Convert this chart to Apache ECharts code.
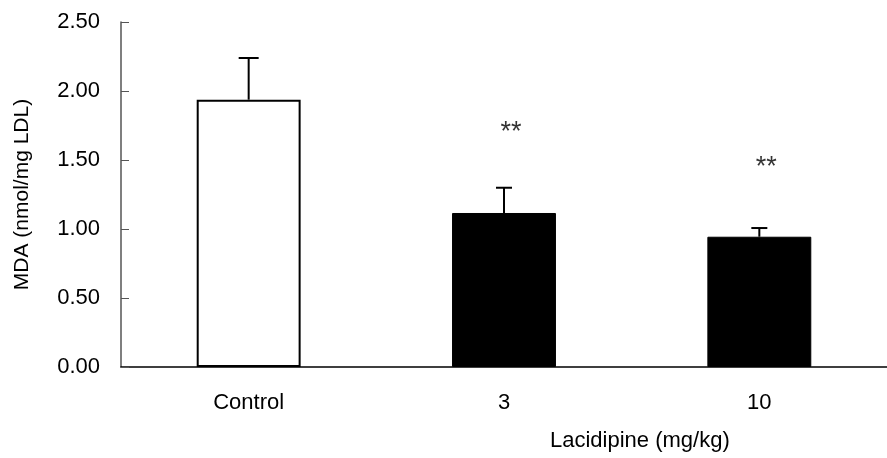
<!DOCTYPE html>
<html>
<head>
<meta charset="utf-8">
<script src="https://cdn.jsdelivr.net/npm/echarts@6/dist/echarts.min.js"></script>
<style>
  html, body { margin: 0; padding: 0; background: #fff; }
  #chart { width: 887px; height: 458px; }
</style>
</head>
<body>
<div id="chart"></div>
<script>
// data
const categories = ['Control', '3', '10']
const meanValues = [1.937, 1.116, 0.944]
const errorTops = [2.239, 1.299, 1.007]
const starLabels = ['', '**', '**']
const starValues = [null, 1.74, 1.49]

const FONT = 'Liberation Sans, Arial, Helvetica, sans-serif'

const myChart = echarts.init(document.getElementById('chart'))

//柱子样式：对照组白色空心，其余黑色
const barData = meanValues.map((v, i) => ({
  value: v,
  itemStyle: i === 0
    ? { color: '#fff', borderColor: '#000', borderWidth: 2 }
    : { color: '#000', borderColor: '#000', borderWidth: 1 }
}))

myChart.setOption({
  animation: false,
  grid: { left: 121, right: -1, top: 22, bottom: 91, containLabel: false },
  xAxis: {
    type: 'category',
    data: categories,
    axisLine: { lineStyle: { color: '#000', width: 1.5 } },
    axisTick: { inside: true, length: 7, lineStyle: { color: '#333' } },
    axisLabel: { color: '#000', fontSize: 22, fontFamily: FONT, margin: 25 }
  },
  yAxis: {
    type: 'value',
    min: 0,
    max: 2.5,
    interval: 0.5,
    name: 'MDA (nmol/mg LDL)',
    nameLocation: 'middle',
    nameGap: 88,
    nameTextStyle: { color: '#000', fontSize: 21, fontFamily: FONT },
    splitLine: { show: false },
    axisLine: { show: true, lineStyle: { color: '#555', width: 1.5 } },
    axisTick: { show: true, inside: true, length: 8, lineStyle: { color: '#555' } },
    axisLabel: {
      color: '#000', fontSize: 22, fontFamily: FONT, margin: 21,
      formatter: v => v.toFixed(2)
    }
  },
  graphic: [
    {
      type: 'text',
      left: 550,
      top: 430,
      style: { text: 'Lacidipine (mg/kg)', fill: '#000', font: '22px ' + FONT }
    }
  ],
  series: [
    {
      type: 'bar',
      data: barData,
      barWidth: '40.7%',
      z: 2
    },
    {
      //误差线
      type: 'custom',
      z: 1,
      data: categories.map((c, i) => [i, meanValues[i], errorTops[i]]),
      renderItem: (params, api) => {
        const base = api.coord([api.value(0), api.value(1)])
        const top = api.coord([api.value(0), api.value(2)])
        const half = params.dataIndex === 0 ? 10 : 8
        return {
          type: 'group',
          children: [
            { type: 'line', shape: { x1: base[0], y1: base[1], x2: top[0], y2: top[1] }, style: { stroke: '#000', lineWidth: 2 } },
            { type: 'line', shape: { x1: top[0] - half, y1: top[1], x2: top[0] + half, y2: top[1] }, style: { stroke: '#000', lineWidth: 2 } }
          ]
        }
      }
    },
    {
      //显著性星号
      type: 'scatter',
      symbolSize: 0,
      data: starValues.map((v, i) => [i, v]),
      label: {
        show: true,
        position: 'inside',
        offset: [7, 6],
        formatter: p => starLabels[p.dataIndex],
        color: '#000',
        fontSize: 27,
        fontFamily: FONT
      }
    }
  ]
})
</script>
</body>
</html>
